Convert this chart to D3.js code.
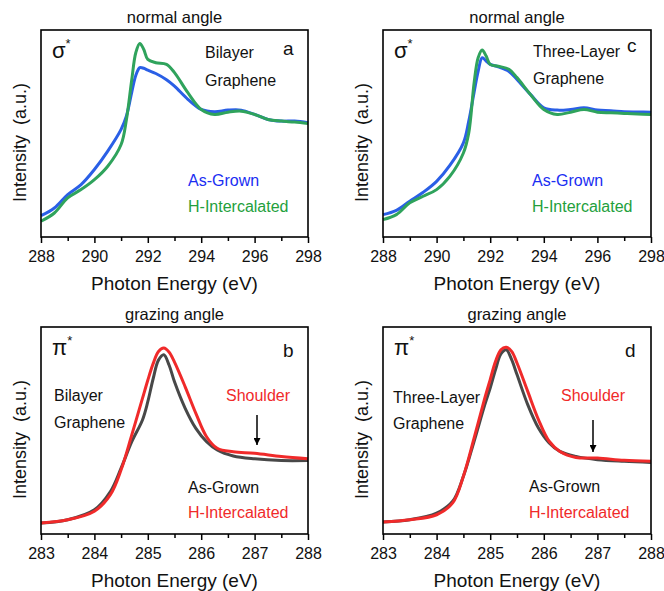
<!DOCTYPE html>
<html>
  <head>
    <meta charset="utf-8">
    <script src="https://cdn.jsdelivr.net/npm/d3@7"></script>
    <style>
      body { margin: 0; background: #fff; }
      svg text { font-family: "Liberation Sans", Arial, sans-serif; fill: #111; }
      .frame { fill: none; stroke: #000; stroke-width: 1.6; }
      .axis path, .axis line { stroke: #000; stroke-width: 1.5; }
      .axis text { font-size: 16px; fill: #111; }
    </style>
  </head>
  <body>
    <script>
      // energy grids (eV)
      var sigmaEnergy = [288, 288.5, 289, 289.5, 290, 290.5, 291, 291.2, 291.4, 291.55, 291.7, 291.85,
                         292, 292.3, 292.7, 293, 293.5, 294, 294.5, 295, 295.5, 296, 296.5, 297, 297.5, 298];
      var piEnergy = [283, 283.5, 284, 284.3, 284.5, 284.7, 284.9, 285, 285.1, 285.2, 285.3, 285.4,
                      285.5, 285.7, 285.9, 286.1, 286.3, 286.6, 287, 287.5, 288];

      // panel a : bilayer, normal angle
      var bilayerSigmaGrown = [0.103, 0.14, 0.205, 0.253, 0.326, 0.415, 0.52, 0.585, 0.70, 0.78, 0.818, 0.815,
                               0.806, 0.79, 0.76, 0.729, 0.665, 0.616, 0.605, 0.613, 0.613, 0.592, 0.568, 0.56, 0.56, 0.552];
      var bilayerSigmaH = [0.076, 0.116, 0.189, 0.229, 0.277, 0.342, 0.447, 0.568, 0.761, 0.89, 0.935, 0.906,
                           0.858, 0.842, 0.834, 0.794, 0.697, 0.616, 0.592, 0.603, 0.608, 0.592, 0.568, 0.56, 0.555, 0.548];
      // panel c : three-layer, normal angle
      var threeSigmaGrown = [0.108, 0.129, 0.173, 0.216, 0.269, 0.347, 0.455, 0.56, 0.70, 0.80, 0.866, 0.85,
                             0.834, 0.822, 0.80, 0.761, 0.689, 0.624, 0.613, 0.616, 0.624, 0.613, 0.61, 0.605, 0.604, 0.603];
      var threeSigmaH = [0.084, 0.108, 0.165, 0.197, 0.229, 0.294, 0.406, 0.503, 0.745, 0.866, 0.903, 0.874,
                         0.834, 0.825, 0.81, 0.77, 0.689, 0.616, 0.592, 0.603, 0.616, 0.603, 0.6, 0.597, 0.594, 0.592];
      // panel b : bilayer, grazing angle
      var bilayerPiGrown = [0.053, 0.069, 0.117, 0.205, 0.318, 0.446, 0.551, 0.639, 0.75, 0.84, 0.866, 0.815,
                            0.735, 0.607, 0.51, 0.446, 0.406, 0.377, 0.363, 0.355, 0.355];
      var bilayerPiH = [0.053, 0.069, 0.11, 0.19, 0.31, 0.479, 0.655, 0.743, 0.823, 0.882, 0.898, 0.878,
                        0.83, 0.711, 0.583, 0.47, 0.414, 0.397, 0.39, 0.374, 0.363];
      // panel d : three-layer, grazing angle
      var threePiGrown = [0.058, 0.069, 0.101, 0.158, 0.279, 0.448, 0.625, 0.705, 0.794, 0.87, 0.89, 0.842,
                          0.77, 0.625, 0.512, 0.44, 0.399, 0.375, 0.359, 0.351, 0.346];
      var threePiH = [0.058, 0.069, 0.093, 0.15, 0.279, 0.464, 0.657, 0.746, 0.834, 0.89, 0.902, 0.882,
                      0.826, 0.689, 0.553, 0.448, 0.399, 0.37, 0.367, 0.356, 0.351];

      var sigmaTicks = [288, 290, 292, 294, 296, 298];
      var sigmaMinor = [289, 291, 293, 295, 297];
      var piTicks = [283, 284, 285, 286, 287, 288];
      var piMinor = [283.5, 284.5, 285.5, 286.5, 287.5];

      var blue = "#2a5fe6", green = "#2fa35c", grey = "#484848", red = "#f02a2a";

      var svg = d3.select("body").append("svg")
        .attr("width", 664)
        .attr("height", 591);

      var panels = [
        { left: 41, top: 30, right: 308, bottom: 237, title: "normal angle", symbol: "\u03c3", letter: "a",
          letterX: 242, letterY: 25, energy: sigmaEnergy, domain: [288, 298], ticks: sigmaTicks, minor: sigmaMinor,
          s1: bilayerSigmaGrown, s2: bilayerSigmaH, c1: blue, c2: green,
          name: ["Bilayer", "Graphene"], nameX: 164, nameY: [28, 56],
          legX: 147, legY: [156, 182] },
        { left: 383, top: 30, right: 651, bottom: 237, title: "normal angle", symbol: "\u03c3", letter: "c",
          letterX: 244, letterY: 22, energy: sigmaEnergy, domain: [288, 298], ticks: sigmaTicks, minor: sigmaMinor,
          s1: threeSigmaGrown, s2: threeSigmaH, c1: blue, c2: green,
          name: ["Three-Layer", "Graphene"], nameX: 150, nameY: [27, 54],
          legX: 149, legY: [156, 182] },
        { left: 41, top: 327, right: 308, bottom: 534, title: "grazing angle", symbol: "\u03c0", letter: "b",
          letterX: 242, letterY: 30, energy: piEnergy, domain: [283, 288], ticks: piTicks, minor: piMinor,
          s1: bilayerPiGrown, s2: bilayerPiH, c1: grey, c2: red,
          name: ["Bilayer", "Graphene"], nameX: 13, nameY: [74, 101],
          legX: 147, legY: [166, 191], shoulderX: 185, arrowX: 216, arrowY: [88, 118] },
        { left: 383, top: 327, right: 651, bottom: 534, title: "grazing angle", symbol: "\u03c0", letter: "d",
          letterX: 242, letterY: 30, energy: piEnergy, domain: [283, 288], ticks: piTicks, minor: piMinor,
          s1: threePiGrown, s2: threePiH, c1: grey, c2: red,
          name: ["Three-Layer", "Graphene"], nameX: 10, nameY: [76, 102],
          legX: 146, legY: [165, 191], shoulderX: 178, arrowX: 210, arrowY: [93, 125] }
      ];

      // arrow head for the shoulder marker
      svg.append("defs").append("marker")
        .attr("id", "head")
        .attr("viewBox", "0 0 10 10")
        .attr("refX", 10).attr("refY", 5)
        .attr("markerWidth", 7).attr("markerHeight", 7)
        .attr("markerUnits", "userSpaceOnUse")
        .attr("orient", "auto")
        .append("path").attr("d", "M0,0L10,5L0,10z").attr("fill", "#000");

      panels.forEach(function(p) {
        var w = p.right - p.left, h = p.bottom - p.top;
        var g = svg.append("g").attr("transform", "translate(" + p.left + "," + p.top + ")");

        var x = d3.scaleLinear().domain(p.domain).range([0, w]);
        var y = d3.scaleLinear().domain([0, 1]).range([h, 0]);

        var line = d3.line()
          .x(function(d) { return x(d[0]); })
          .y(function(d) { return y(d[1]); })
          .curve(d3.curveCatmullRom.alpha(0.5));

        [[p.s1, p.c1], [p.s2, p.c2]].forEach(function(s) {
          g.append("path")
            .datum(p.energy.map(function(e, i) { return [e, s[0][i]]; }))
            .attr("d", line)
            .attr("fill", "none")
            .attr("stroke", s[1])
            .attr("stroke-width", 3)
            .attr("stroke-linejoin", "round");
        });

        // frame
        g.append("rect").attr("class", "frame").attr("width", w).attr("height", h);

        // x axis with major and minor ticks
        g.append("g")
          .attr("class", "axis")
          .attr("transform", "translate(0," + h + ")")
          .call(d3.axisBottom(x).tickValues(p.ticks).tickSize(6).tickPadding(8).tickFormat(d3.format("d")))
          .call(function(a) { a.select(".domain").remove(); });
        g.append("g")
          .attr("class", "axis")
          .attr("transform", "translate(0," + h + ")")
          .call(d3.axisBottom(x).tickValues(p.minor).tickSize(4).tickFormat(""))
          .call(function(a) { a.select(".domain").remove(); });

        g.append("text")
          .attr("x", w / 2).attr("y", h + 53)
          .attr("text-anchor", "middle")
          .style("font-size", "19px")
          .text("Photon Energy (eV)");

        g.append("text")
          .attr("transform", "translate(-15," + (h / 2 + 9) + ")rotate(-90)")
          .attr("text-anchor", "middle")
          .style("font-size", "18px")
          .style("white-space", "pre")
          .text("Intensity  (a.u.)");

        g.append("text")
          .attr("x", w / 2).attr("y", -7)
          .attr("text-anchor", "middle")
          .style("font-size", "16.5px")
          .text(p.title);

        var sym = g.append("text").attr("x", 11).attr("y", 28).style("font-size", "22px");
        sym.append("tspan").text(p.symbol);
        sym.append("tspan").attr("dy", -10).style("font-size", "13px").text("*");

        g.append("text")
          .attr("x", p.letterX).attr("y", p.letterY)
          .style("font-size", "19px")
          .text(p.letter);

        p.name.forEach(function(t, i) {
          g.append("text")
            .attr("x", p.nameX).attr("y", p.nameY[i])
            .style("font-size", "16px")
            .text(t);
        });

        g.append("text").attr("x", p.legX).attr("y", p.legY[0])
          .style("font-size", "16px").style("fill", p.c1 === grey ? "#111" : "#1a2ef2").text("As-Grown");
        g.append("text").attr("x", p.legX).attr("y", p.legY[1])
          .style("font-size", "16px").style("fill", p.c2 === red ? red : "#23a03c").text("H-Intercalated");

        if (p.shoulderX !== undefined) {
          g.append("text")
            .attr("x", p.shoulderX).attr("y", 74)
            .style("font-size", "16px").style("fill", red)
            .text("Shoulder");
          g.append("line")
            .attr("x1", p.arrowX).attr("x2", p.arrowX)
            .attr("y1", p.arrowY[0]).attr("y2", p.arrowY[1])
            .attr("stroke", "#000").attr("stroke-width", 1.5)
            .attr("marker-end", "url(#head)");
        }
      });
    </script>
  </body>
</html>
